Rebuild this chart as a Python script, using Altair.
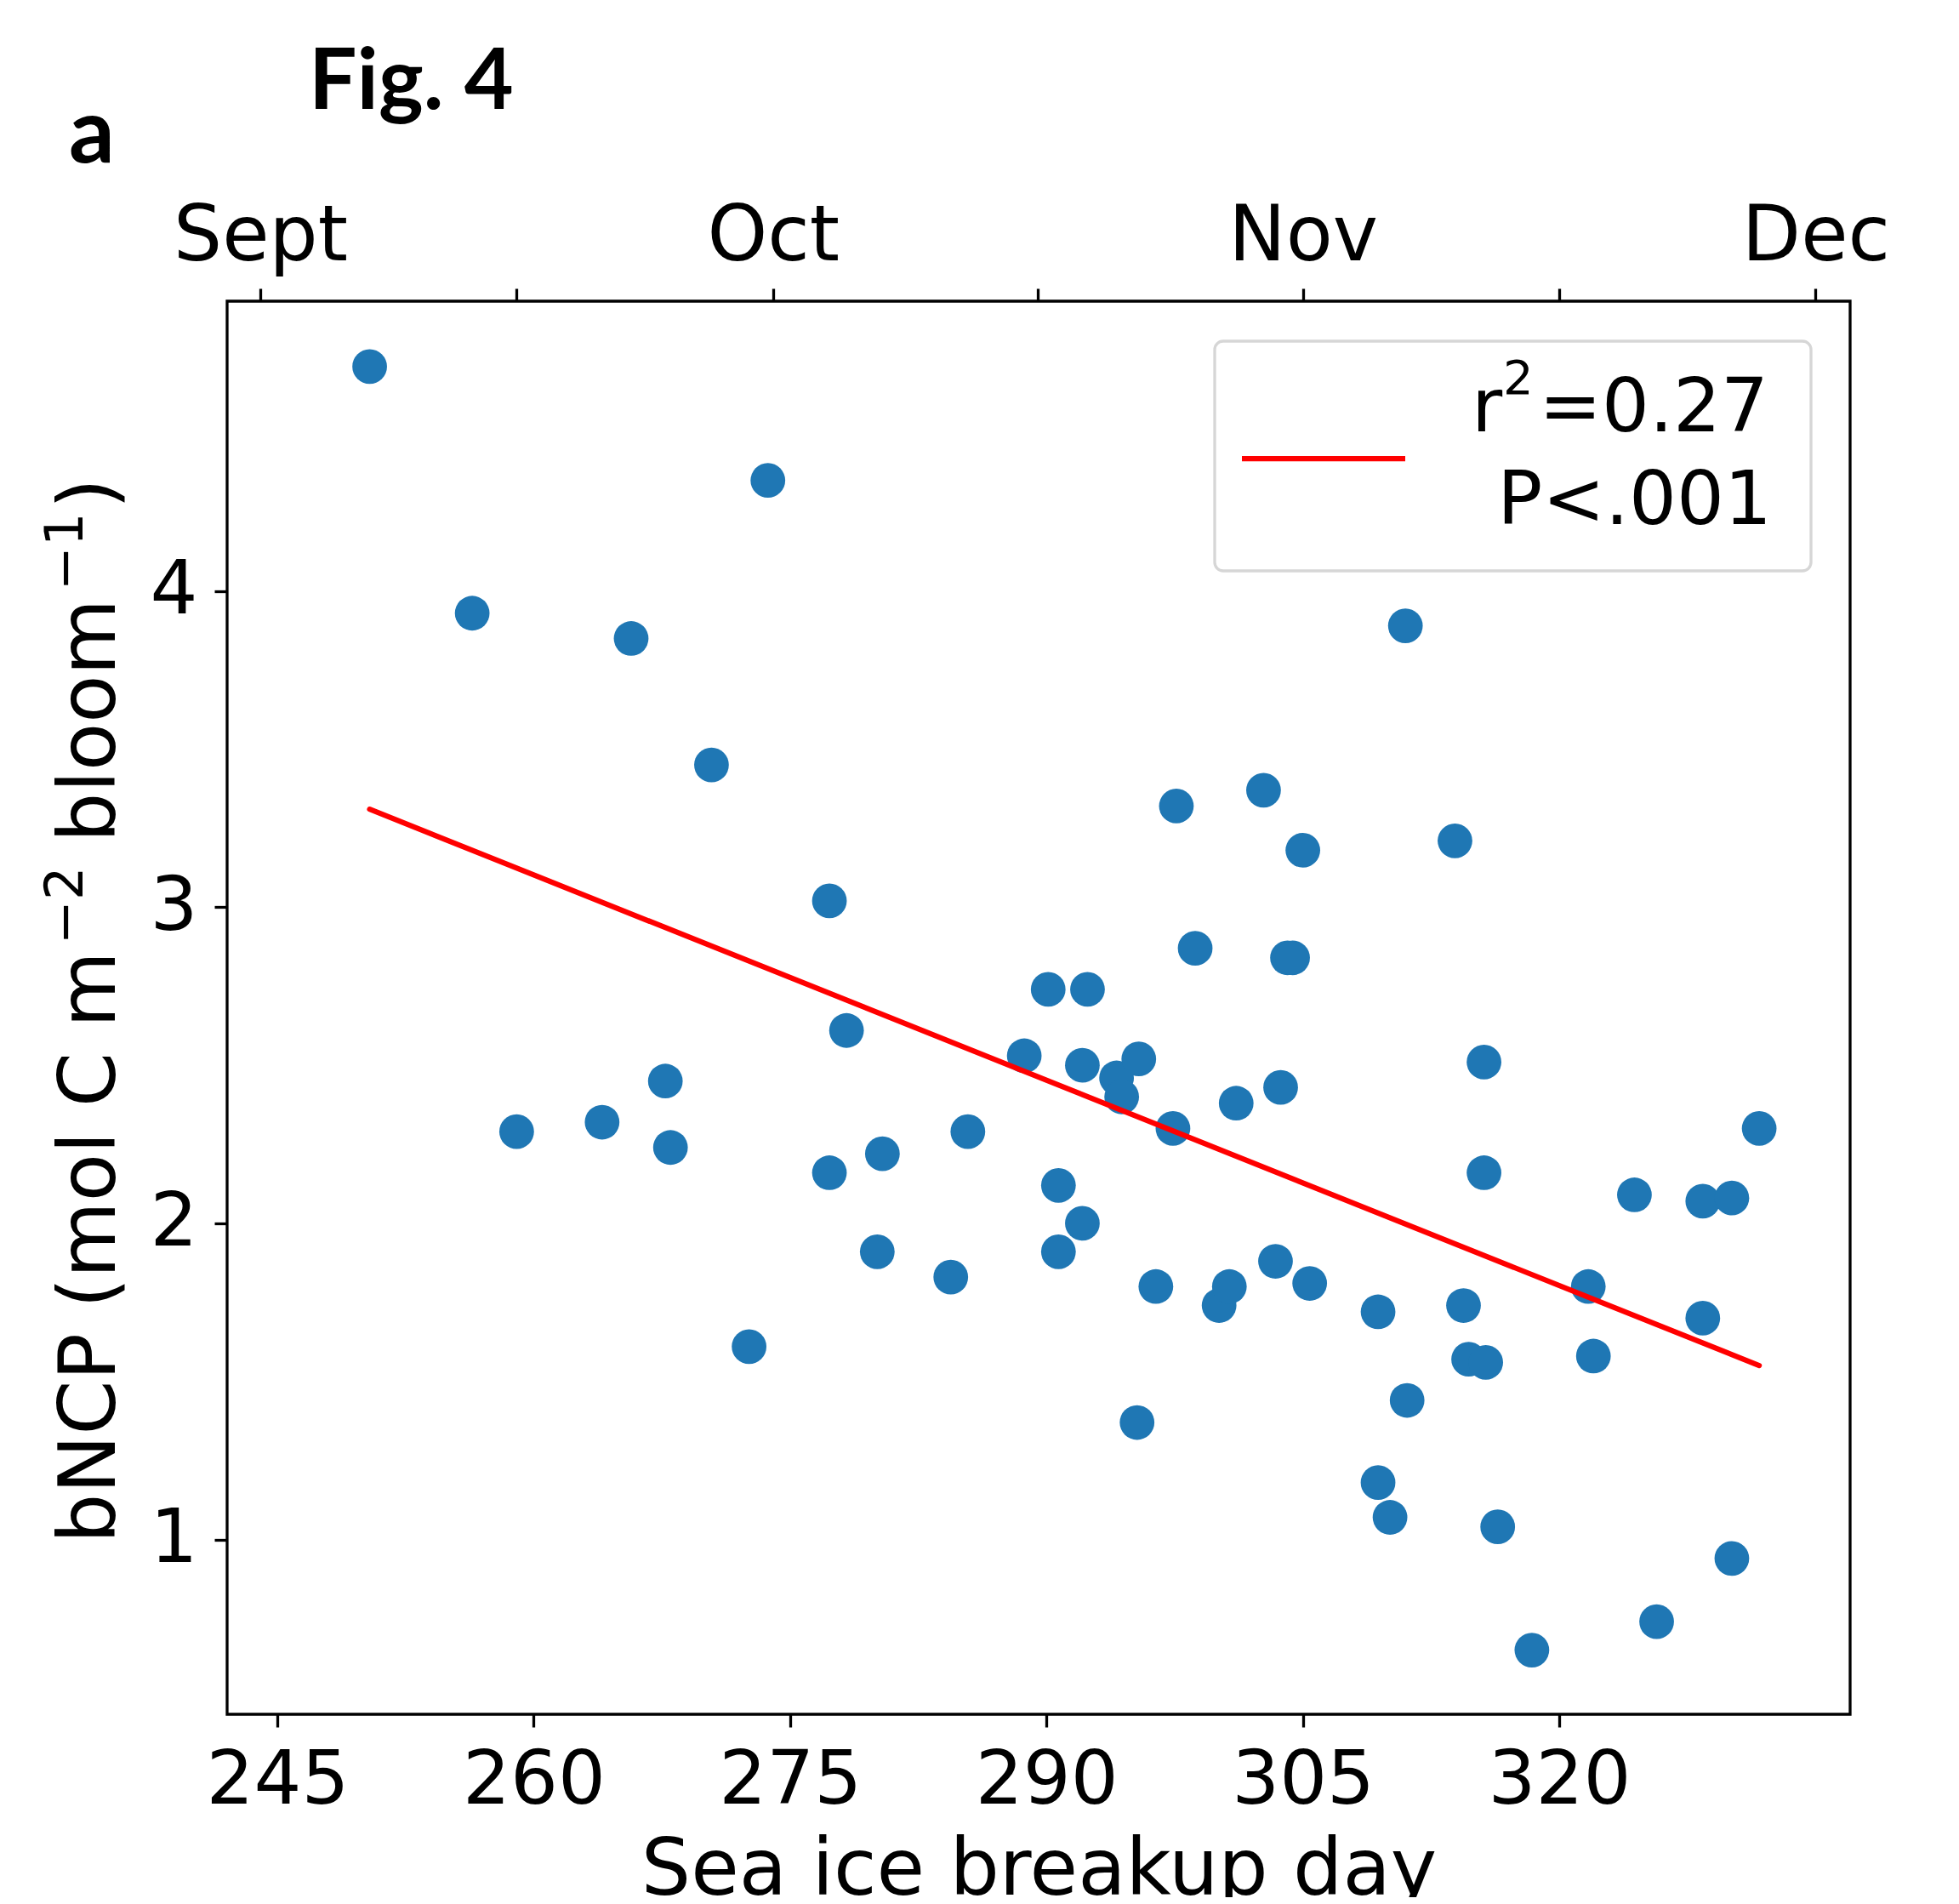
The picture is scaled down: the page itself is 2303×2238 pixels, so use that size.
import altair as alt
import pandas as pd

# Sea ice breakup day (x) and bNCP (y)
days = [250.4, 256.4, 259.0, 264.0, 265.7, 267.7, 268.0, 270.4, 272.6, 273.7,
        277.3, 277.3, 278.3, 280.1, 280.4, 284.4, 285.4, 288.7, 290.1, 290.7,
        290.7, 292.1, 292.1, 292.4, 294.1, 294.4, 295.4, 295.3, 296.4, 297.4,
        297.6, 298.7, 300.1, 300.7, 301.1, 302.7, 303.4, 303.7, 304.1, 304.4,
        305.0, 305.4, 309.4, 309.4, 310.1, 311.0, 311.1, 313.9, 314.4, 314.7,
        315.6, 315.6, 315.7, 316.4, 318.4, 321.7, 322.0, 324.4, 325.7, 328.4,
        328.4, 330.1, 330.1, 331.7]
bncp = [4.71, 3.93, 2.29, 2.32, 3.85, 2.45, 2.24, 3.45, 1.61, 4.35,
        3.02, 2.16, 2.61, 1.91, 2.22, 1.83, 2.29, 2.53, 2.74, 2.12,
        1.91, 2.50, 2.00, 2.74, 2.46, 2.40, 2.52, 1.37, 1.80, 2.30,
        3.32, 2.87, 1.74, 1.80, 2.38, 3.37, 1.88, 2.43, 2.84, 2.84,
        3.18, 1.81, 1.72, 1.18, 1.07, 3.89, 1.44, 3.21, 1.74, 1.57,
        2.51, 2.16, 1.56, 1.04, 0.65, 1.80, 1.58, 2.09, 0.74, 2.07,
        1.70, 2.08, 0.94, 2.30]

# regression line end points
fit_days = [250.4, 331.7]
fit_bncp = [3.31, 1.55]

x_ticks = [245, 260, 275, 290, 305, 320]
y_ticks = [1, 2, 3, 4]
month_ticks = [244, 259, 274, 289.5, 305, 320, 335]
month_labels = ["Sept", "", "Oct", "", "Nov", "", "Dec"]
legend_r = ["r", "2", "=0.27"]
legend_p = "P<.001"
# y-axis title pieces: (text, superscript?)
y_title_parts = [("bNCP (mol C m", False), ("\u22122", True), ("bloom", False),
                 ("\u22121", True), (")", False)]
x_domain = [242.06, 337.02]
y_domain = [0.447, 4.917]

pts = pd.DataFrame({"day": days, "bncp": bncp})
fit = pd.DataFrame({"day": fit_days, "bncp": fit_bncp})
one = pd.DataFrame({"k": [0]})

label_expr = ""
for v, lab in zip(month_ticks, month_labels):
    label_expr += f"datum.value == {v} ? '{lab}' : "
label_expr += "''"

xs = alt.Scale(domain=x_domain, nice=False, zero=False)
ys = alt.Scale(domain=y_domain, nice=False, zero=False)

FONT = "DejaVu Sans"

bottom_axis = alt.Axis(orient="bottom", values=x_ticks, title="Sea ice breakup day",
                       labelFlush=False, labelOverlap=False, labelPadding=19,
                       titlePadding=16, format="d")
top_axis = alt.Axis(orient="top", values=month_ticks, labelExpr=label_expr, title=None,
                    labelFlush=False, labelOverlap=False, labelPadding=15,
                    labelFontSize=90, labelLimit=0)
left_axis = alt.Axis(orient="left", values=y_ticks, title=None,
                     labelPadding=20, format="d")

points = alt.Chart(pts).mark_circle(size=1662, color="#1f77b4", opacity=1).encode(
    x=alt.X("day:Q", scale=xs, axis=bottom_axis),
    y=alt.Y("bncp:Q", scale=ys, axis=left_axis),
)

line = alt.Chart(fit).mark_line(color="red", strokeWidth=6.25, strokeCap="round").encode(
    x=alt.X("day:Q", scale=xs, axis=top_axis),
    y=alt.Y("bncp:Q", scale=ys, axis=left_axis),
)

legend_box = alt.Chart(one).mark_rect(
    fill="white", fillOpacity=0.8, stroke="#d6d6d6", strokeWidth=3.3, cornerRadius=10
).encode(x=alt.value(1161), x2=alt.value(1862), y=alt.value(47), y2=alt.value(317))

legend_line = alt.Chart(one).mark_rule(color="red", strokeWidth=6.25).encode(
    x=alt.value(1193), x2=alt.value(1385), y=alt.value(185)
)

def txt(s, x, y, size, align="left", angle=0):
    return alt.Chart(one).mark_text(
        text=s, font=FONT, fontSize=size, align=align, baseline="alphabetic",
        color="black", angle=angle
    ).encode(x=alt.value(x), y=alt.value(y))

leg_r = txt(legend_r[0], 1463, 153, 88)
leg_2 = txt(legend_r[1], 1500, 109, 56)
leg_eq = txt(legend_r[2], 1812, 153, 88, align="right")
leg_p = txt(legend_p, 1816, 262, 88, align="right")

# rotated y-axis title, built from pieces so superscripts look like mathtext
y_title_starts = [1460, 756, 636, 340, 244]
y_layers = []
for (s, sup), start in zip(y_title_parts, y_title_starts):
    y_layers.append(txt(s, -170 if sup else -132, start, 62 if sup else 92, angle=270))

fig_title = alt.Chart(one).mark_text(
    text="Fig. 4", font="Lato", fontWeight="bold", fontSize=100, align="left",
    baseline="alphabetic", color="black"
).encode(x=alt.value(96), y=alt.value(-226))

panel = alt.Chart(one).mark_text(
    text="a", font="Lato", fontWeight="bold", fontSize=106, align="left",
    baseline="alphabetic", color="black"
).encode(x=alt.value(-186), y=alt.value(-163))

chart = alt.layer(
    points, line, legend_box, legend_line, leg_r, leg_2, leg_eq, leg_p,
    *y_layers, fig_title, panel
).resolve_axis(x="independent").properties(
    width=1908, height=1661,
    autosize=alt.AutoSizeParams(type="none"),
    padding={"left": 259, "top": 346, "right": 120, "bottom": 215},
).configure_view(
    stroke="black", strokeWidth=3.3
).configure_axis(
    domain=False, grid=False,
    labelFont=FONT, labelFontSize=88, labelColor="black",
    titleFont=FONT, titleFontSize=92, titleFontWeight="normal", titleColor="black",
    tickColor="black", tickWidth=3.3, tickSize=15,
)

chart.save("out.html", embed_options={"renderer": "svg", "actions": False})
